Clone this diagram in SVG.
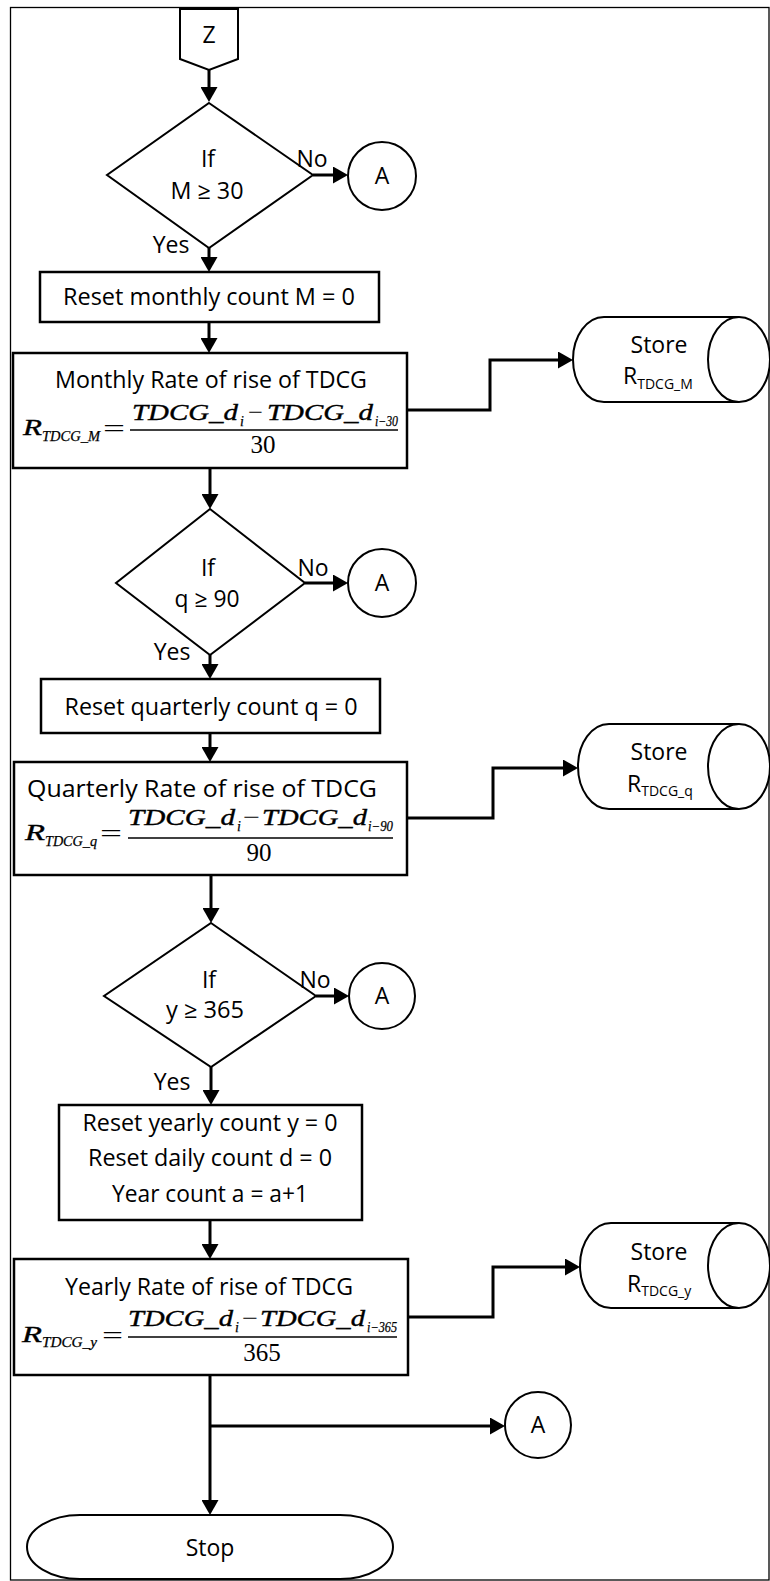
<svg xmlns="http://www.w3.org/2000/svg" width="770" height="1581" viewBox="0 0 770 1581">
  <style>
    .t { font-family: "Open Sans", Lato, "Liberation Sans", sans-serif; font-size: 23px; fill: #000; text-anchor: middle; }
    .ts { font-family: "Open Sans", Lato, "Liberation Sans", sans-serif; font-size: 23px; fill: #000; }
    .sub { font-size: 14px; }
    .m { font-family: "Liberation Serif", "Times New Roman", serif; font-style: italic; font-size: 24px; fill: #000; stroke: #000; stroke-width: 0.4; }
    .ms { font-family: "Liberation Serif", "Times New Roman", serif; font-style: italic; font-size: 14px; fill: #000; stroke: #000; stroke-width: 0.25; }
    .mn { font-family: "Liberation Serif", "Times New Roman", serif; font-size: 24px; fill: #000; }
    .mc { font-family: "Liberation Serif", "Times New Roman", serif; font-size: 25px; fill: #000; text-anchor: middle; }
    .box { fill: #fff; stroke: #000; stroke-width: 2.5; }
    .shape { fill: #fff; stroke: #000; stroke-width: 2; }
    .conn { fill: none; stroke: #000; stroke-width: 3; marker-end: url(#arr); }
    .bar { stroke: #000; stroke-width: 1.4; }
  </style>
  <defs>
    <marker id="arr" markerUnits="userSpaceOnUse" markerWidth="16" markerHeight="17" refX="10" refY="8.5" orient="auto">
      <path d="M0,0 L15,8.5 L0,17 Z" fill="#000"/>
    </marker>
  </defs>

  <!-- page frame -->
  <rect x="10.5" y="7.5" width="758.5" height="1572.5" fill="#fff" stroke="#000" stroke-width="1.3"/>

  <!-- connectors -->
  <g id="connectors">
    <path class="conn" d="M209,70 V97"/>
    <path class="conn" d="M313,175 H343"/>
    <path class="conn" d="M209,248 V267"/>
    <path class="conn" d="M209,322 V348"/>
    <path class="conn" d="M407,410 H490 V360 H568"/>
    <path class="conn" d="M210,468 V504"/>
    <path class="conn" d="M305,583 H343"/>
    <path class="conn" d="M210,655 V674"/>
    <path class="conn" d="M210,733 V757"/>
    <path class="conn" d="M407,818 H493 V768 H573"/>
    <path class="conn" d="M211,875 V918"/>
    <path class="conn" d="M316,996 H344"/>
    <path class="conn" d="M211,1067 V1100"/>
    <path class="conn" d="M210,1220 V1254"/>
    <path class="conn" d="M407,1317 H493 V1267 H575"/>
    <path class="conn" d="M210,1375 V1510"/>
    <path class="conn" d="M210,1426 H500"/>
  </g>

  <!-- off-page entry Z -->
  <g id="entry-z">
    <path class="shape" d="M180,9 H238 V59 L209,70 L180,59 Z"/>
    <text class="t" x="209" y="43" font-size="21">Z</text>
  </g>

  <!-- monthly check -->
  <g id="dec-month">
    <path class="shape" d="M209,103 L313,175 L209,248 L107,175 Z"/>
    <text class="t" x="208" y="167">If</text>
    <text class="t" x="207" y="199" textLength="73" lengthAdjust="spacingAndGlyphs">M ≥ 30</text>
    <text class="t" x="312" y="167">No</text>
    <text class="t" x="171" y="253">Yes</text>
  </g>
  <g id="conn-a1">
    <circle class="shape" cx="382" cy="176" r="34"/>
    <text class="t" x="382" y="184">A</text>
  </g>
  <g id="reset-month">
    <rect class="box" x="40" y="272" width="339" height="50"/>
    <text class="t" x="209" y="305" textLength="292" lengthAdjust="spacingAndGlyphs">Reset monthly count M = 0</text>
  </g>
  <g id="rate-month">
    <rect class="box" x="13" y="353" width="394" height="115"/>
    <text class="t" x="211" y="388" textLength="312" lengthAdjust="spacingAndGlyphs">Monthly Rate of rise of TDCG</text>
    <text class="m" x="23" y="435" textLength="19" lengthAdjust="spacingAndGlyphs">R</text>
    <text class="ms" x="42" y="441" textLength="58" lengthAdjust="spacingAndGlyphs">TDCG_M</text>
    <text class="mn" x="103" y="436" textLength="22" lengthAdjust="spacingAndGlyphs">=</text>
    <text class="m" x="132" y="420" textLength="106" lengthAdjust="spacingAndGlyphs">TDCG_d</text>
    <text class="ms" x="240" y="426">i</text>
    <text class="mn" x="248" y="420" textLength="15" lengthAdjust="spacingAndGlyphs">−</text>
    <text class="m" x="267" y="420" textLength="106" lengthAdjust="spacingAndGlyphs">TDCG_d</text>
    <text class="ms" x="375" y="426" textLength="23" lengthAdjust="spacingAndGlyphs">i−30</text>
    <line class="bar" x1="130" y1="430" x2="398" y2="430"/>
    <text class="mc" x="263" y="453">30</text>
  </g>
  <g id="store-month">
    <path class="shape" d="M739,317 H604 A31,42.5 0 0 0 604,402 H739"/>
    <ellipse class="shape" cx="739" cy="359.5" rx="31" ry="42.5"/>
    <text class="t" x="659" y="353">Store</text>
    <text class="ts" x="623" y="384">R<tspan class="sub" dy="5">TDCG_M</tspan></text>
  </g>

  <!-- quarterly check -->
  <g id="dec-quarter">
    <path class="shape" d="M210,509 L305,583 L210,655 L116,583 Z"/>
    <text class="t" x="208" y="576">If</text>
    <text class="t" x="207" y="607" textLength="65" lengthAdjust="spacingAndGlyphs">q ≥ 90</text>
    <text class="t" x="313" y="576">No</text>
    <text class="t" x="172" y="660">Yes</text>
  </g>
  <g id="conn-a2">
    <circle class="shape" cx="382" cy="583" r="34"/>
    <text class="t" x="382" y="591">A</text>
  </g>
  <g id="reset-quarter">
    <rect class="box" x="41" y="679" width="339" height="54"/>
    <text class="t" x="211" y="715" textLength="293" lengthAdjust="spacingAndGlyphs">Reset quarterly count q = 0</text>
  </g>
  <g id="rate-quarter">
    <rect class="box" x="14" y="762" width="393" height="113"/>
    <text class="t" x="202" y="797" font-size="25" textLength="350" lengthAdjust="spacingAndGlyphs">Quarterly Rate of rise of TDCG</text>
    <text class="m" x="25" y="840" textLength="20" lengthAdjust="spacingAndGlyphs">R</text>
    <text class="ms" x="45" y="846" textLength="52" lengthAdjust="spacingAndGlyphs">TDCG_q</text>
    <text class="mn" x="100" y="841" textLength="22" lengthAdjust="spacingAndGlyphs">=</text>
    <text class="m" x="128" y="825" textLength="107" lengthAdjust="spacingAndGlyphs">TDCG_d</text>
    <text class="ms" x="237" y="831">i</text>
    <text class="mn" x="243" y="825" textLength="17" lengthAdjust="spacingAndGlyphs">−</text>
    <text class="m" x="262" y="825" textLength="105" lengthAdjust="spacingAndGlyphs">TDCG_d</text>
    <text class="ms" x="368" y="831" textLength="25" lengthAdjust="spacingAndGlyphs">i−90</text>
    <line class="bar" x1="128" y1="838" x2="393" y2="838"/>
    <text class="mc" x="259" y="861">90</text>
  </g>
  <g id="store-quarter">
    <path class="shape" d="M739,724 H609 A31,42.5 0 0 0 609,809 H739"/>
    <ellipse class="shape" cx="739" cy="766.5" rx="31" ry="42.5"/>
    <text class="t" x="659" y="760">Store</text>
    <text class="ts" x="627" y="792">R<tspan class="sub" dy="4">TDCG_q</tspan></text>
  </g>

  <!-- yearly check -->
  <g id="dec-year">
    <path class="shape" d="M211,923 L316,996 L211,1067 L104,996 Z"/>
    <text class="t" x="209" y="988">If</text>
    <text class="t" x="205" y="1018" textLength="78" lengthAdjust="spacingAndGlyphs">y ≥ 365</text>
    <text class="t" x="315" y="988">No</text>
    <text class="t" x="172" y="1090">Yes</text>
  </g>
  <g id="conn-a3">
    <circle class="shape" cx="382" cy="996" r="33"/>
    <text class="t" x="382" y="1004">A</text>
  </g>
  <g id="reset-year">
    <rect class="box" x="59" y="1105" width="303" height="115"/>
    <text class="t" x="210" y="1131" textLength="255" lengthAdjust="spacingAndGlyphs">Reset yearly count y = 0</text>
    <text class="t" x="210" y="1166" textLength="244" lengthAdjust="spacingAndGlyphs">Reset daily count d = 0</text>
    <text class="t" x="210" y="1202" textLength="196" lengthAdjust="spacingAndGlyphs">Year count a = a+1</text>
  </g>
  <g id="rate-year">
    <rect class="box" x="14" y="1259" width="394" height="116"/>
    <text class="t" x="209" y="1295" textLength="288" lengthAdjust="spacingAndGlyphs">Yearly Rate of rise of TDCG</text>
    <text class="m" x="22" y="1342" textLength="20" lengthAdjust="spacingAndGlyphs">R</text>
    <text class="ms" x="42" y="1347" textLength="55" lengthAdjust="spacingAndGlyphs">TDCG_y</text>
    <text class="mn" x="102" y="1343" textLength="21" lengthAdjust="spacingAndGlyphs">=</text>
    <text class="m" x="128" y="1326" textLength="105" lengthAdjust="spacingAndGlyphs">TDCG_d</text>
    <text class="ms" x="235" y="1332">i</text>
    <text class="mn" x="242" y="1326" textLength="16" lengthAdjust="spacingAndGlyphs">−</text>
    <text class="m" x="260" y="1326" textLength="105" lengthAdjust="spacingAndGlyphs">TDCG_d</text>
    <text class="ms" x="367" y="1332" textLength="30" lengthAdjust="spacingAndGlyphs">i−365</text>
    <line class="bar" x1="128" y1="1337" x2="397" y2="1337"/>
    <text class="mc" x="262" y="1361">365</text>
  </g>
  <g id="store-year">
    <path class="shape" d="M739,1223 H611 A31,42.5 0 0 0 611,1308 H739"/>
    <ellipse class="shape" cx="739" cy="1265.5" rx="31" ry="42.5"/>
    <text class="t" x="659" y="1260">Store</text>
    <text class="ts" x="627" y="1292">R<tspan class="sub" dy="4">TDCG_y</tspan></text>
  </g>

  <g id="conn-a4">
    <circle class="shape" cx="538" cy="1425" r="33"/>
    <text class="t" x="538" y="1433">A</text>
  </g>

  <!-- terminator -->
  <g id="stop">
    <path class="shape" d="M80,1515 H340 A53,32 0 0 1 340,1579 H80 A53,32 0 0 1 80,1515 Z"/>
    <text class="t" x="210" y="1556" font-size="22">Stop</text>
  </g>
</svg>
